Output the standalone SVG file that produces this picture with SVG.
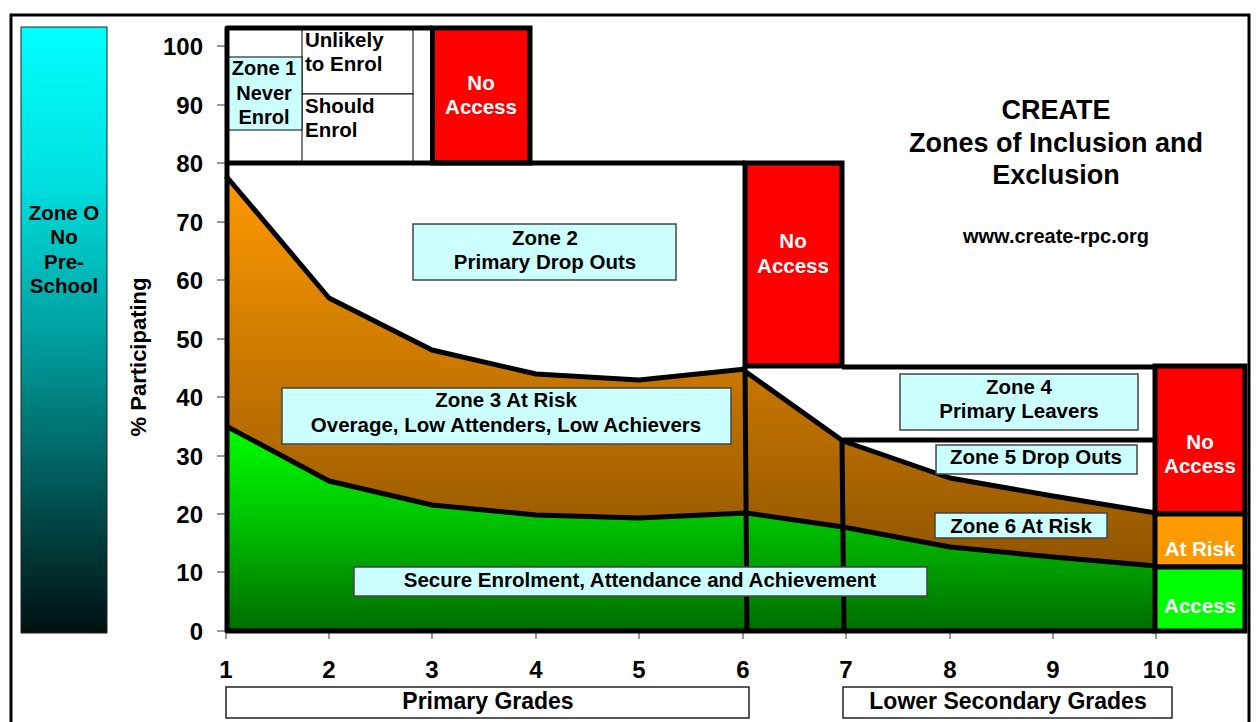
<svg xmlns="http://www.w3.org/2000/svg" width="1257" height="722" viewBox="0 0 1257 722">
<defs>
<linearGradient id="gCyan" gradientUnits="userSpaceOnUse" x1="0" y1="27" x2="0" y2="633">
<stop offset="0" stop-color="#00FFFF"/>
<stop offset="0.25" stop-color="#00E0E0"/>
<stop offset="0.55" stop-color="#009494"/>
<stop offset="1" stop-color="#001010"/>
</linearGradient>
<linearGradient id="gOrange" gradientUnits="userSpaceOnUse" x1="0" y1="176" x2="0" y2="631">
<stop offset="0" stop-color="#FF9900"/>
<stop offset="1" stop-color="#7F4A00"/>
</linearGradient>
<linearGradient id="gGreen" gradientUnits="userSpaceOnUse" x1="0" y1="426" x2="0" y2="631">
<stop offset="0" stop-color="#00FF00"/>
<stop offset="0.4" stop-color="#00CC00"/>
<stop offset="1" stop-color="#006C00"/>
</linearGradient>
</defs>
<style>
text{font-family:"Liberation Sans",Arial,sans-serif;font-weight:bold;fill:#000}
.c{text-anchor:middle}
.t20{font-size:20.5px}
.w{fill:#fff}
.lbl{fill:#CCFFFF;stroke:#444;stroke-width:1.5}
.thick{fill:none;stroke:#000;stroke-width:5;stroke-linejoin:round}
.red{fill:#FF0000;stroke:#000;stroke-width:5}
.tick{stroke:#555;stroke-width:1.2}
.ax{font-size:24px}
</style>
<rect width="1257" height="722" fill="#fff"/>
<g id="frame" fill="none" stroke="#000" stroke-width="3">
<polyline points="11,722 11,15 1249,15 1249,722"/>
</g>
<g id="zone0">
<rect x="21" y="27" width="86" height="606" fill="url(#gCyan)" stroke="#222" stroke-width="1"/>
<text class="c t20" x="64" y="220">Zone O</text>
<text class="c t20" x="64" y="244">No</text>
<text class="c t20" x="64" y="269">Pre-</text>
<text class="c t20" x="64" y="293">School</text>
</g>
<g id="yaxis">
<line x1="226" y1="46" x2="226" y2="632" class="tick"/>
<g class="tick">
<line x1="217" y1="46" x2="226" y2="46"/><line x1="217" y1="105" x2="226" y2="105"/><line x1="217" y1="163" x2="226" y2="163"/><line x1="217" y1="222" x2="226" y2="222"/><line x1="217" y1="280" x2="226" y2="280"/><line x1="217" y1="339" x2="226" y2="339"/><line x1="217" y1="397" x2="226" y2="397"/><line x1="217" y1="456" x2="226" y2="456"/><line x1="217" y1="514" x2="226" y2="514"/><line x1="217" y1="572" x2="226" y2="572"/><line x1="217" y1="631" x2="226" y2="631"/>
</g>
<g class="ax" text-anchor="end">
<text x="203" y="55">100</text><text x="203" y="114">90</text><text x="203" y="172">80</text><text x="203" y="231">70</text><text x="203" y="289">60</text><text x="203" y="348">50</text><text x="203" y="406">40</text><text x="203" y="465">30</text><text x="203" y="523">20</text><text x="203" y="581">10</text><text x="203" y="640">0</text>
</g>
<text class="c" font-size="22" transform="translate(146,357) rotate(-90)">% Participating</text>
</g>
<g id="xaxis">
<line x1="226" y1="632" x2="1196" y2="632" class="tick"/>
<g class="tick">
<line x1="226" y1="632" x2="226" y2="639"/><line x1="329" y1="632" x2="329" y2="639"/><line x1="432" y1="632" x2="432" y2="639"/><line x1="536" y1="632" x2="536" y2="639"/><line x1="639" y1="632" x2="639" y2="639"/><line x1="743" y1="632" x2="743" y2="639"/><line x1="846" y1="632" x2="846" y2="639"/><line x1="950" y1="632" x2="950" y2="639"/><line x1="1053" y1="632" x2="1053" y2="639"/><line x1="1156" y1="632" x2="1156" y2="639"/>
</g>
<g class="ax c">
<text x="226" y="678">1</text><text x="329" y="678">2</text><text x="432" y="678">3</text><text x="536" y="678">4</text><text x="639" y="678">5</text><text x="743" y="678">6</text><text x="846" y="678">7</text><text x="950" y="678">8</text><text x="1053" y="678">9</text><text x="1156" y="678">10</text>
</g>
</g>
<g id="zone3-area">
<polygon fill="url(#gOrange)" points="226,176 329,298 432,350 536,374 639,380 746,369 746,372 843,441 950,478 1053,496 1156,513 1156,631 226,631"/>
</g>
<g id="secure-area">
<polygon fill="url(#gGreen)" points="226,426 329,481 432,505 536,515 639,518 746,513 843,527 950,547 1053,557 1156,566 1156,631 226,631"/>
</g>
<g id="zone1">
<rect x="302" y="28" width="111" height="66" fill="#fff" stroke="#000" stroke-width="1"/>
<rect x="302" y="94" width="111" height="68" fill="#fff" stroke="#000" stroke-width="1"/>
<rect x="228" y="57" width="74" height="73" fill="#CCFFFF" stroke="#000" stroke-width="1"/>
<text class="c" font-size="20" x="264" y="75">Zone 1</text>
<text class="c" font-size="20" x="264" y="100">Never</text>
<text class="c" font-size="20" x="264" y="124">Enrol</text>
<text class="t20" x="305" y="47">Unlikely</text>
<text class="t20" x="305" y="71">to Enrol</text>
<text class="t20" x="305" y="113">Should</text>
<text class="t20" x="305" y="137">Enrol</text>
</g>
<g id="noaccess1">
<rect class="red" x="432.5" y="28" width="97.5" height="135"/>
<text class="c t20 w" x="481" y="90">No</text>
<text class="c t20 w" x="481" y="114">Access</text>
</g>
<g id="noaccess2">
<rect class="red" x="745" y="163" width="97" height="203"/>
<text class="c t20 w" x="793" y="248">No</text>
<text class="c t20 w" x="793" y="273">Access</text>
</g>
<g id="noaccess3">
<rect class="red" x="1155" y="366" width="90" height="148"/>
<text class="c t20 w" x="1200" y="449">No</text>
<text class="c t20 w" x="1200" y="473">Access</text>
</g>
<g id="atrisk">
<rect x="1155" y="514" width="90" height="53" fill="#FF9900" stroke="#000" stroke-width="5"/>
<text class="c t20 w" x="1200" y="556">At Risk</text>
</g>
<g id="access">
<rect x="1155" y="567" width="90" height="64" fill="#00FF00" stroke="#000" stroke-width="5"/>
<text class="c t20 w" x="1200" y="613">Access</text>
</g>
<g id="connectors">
<polyline class="thick" points="432,28 227,28 227,631 1155,631"/>
<line class="thick" x1="227" y1="163" x2="745" y2="163"/>
<line class="thick" x1="745" y1="366" x2="747" y2="631"/>
<line class="thick" x1="842" y1="367" x2="1155" y2="367"/>
<line class="thick" x1="842" y1="441" x2="844" y2="631"/>
<line class="thick" x1="843" y1="440" x2="1155" y2="440"/>
<polyline class="thick" points="226,176 329,298 432,350 536,374 639,380 746,369"/>
<polyline class="thick" points="746,372 843,441 950,478 1053,496 1156,513"/>
<polyline class="thick" points="226,426 329,481 432,505 536,515 639,518 746,513 843,527 950,547 1053,557 1156,566"/>
</g>
<g id="zone2">
<rect class="lbl" x="413" y="224" width="263" height="56"/>
<text class="c t20" x="545" y="245">Zone 2</text>
<text class="c t20" x="545" y="269">Primary Drop Outs</text>
</g>
<g id="zone3">
<rect class="lbl" x="282" y="388" width="449" height="56"/>
<text class="c t20" x="506" y="407">Zone 3 At Risk</text>
<text class="c t20" x="506" y="432">Overage, Low Attenders, Low Achievers</text>
</g>
<g id="zone4">
<rect class="lbl" x="900" y="374" width="238" height="56"/>
<text class="c t20" x="1019" y="394">Zone 4</text>
<text class="c t20" x="1019" y="418">Primary Leavers</text>
</g>
<g id="zone5">
<rect class="lbl" x="936" y="445" width="201" height="29"/>
<text class="c t20" x="1036" y="464">Zone 5 Drop Outs</text>
</g>
<g id="zone6">
<rect class="lbl" x="935" y="513" width="172" height="25"/>
<text class="c t20" x="1021" y="533">Zone 6 At Risk</text>
</g>
<g id="secure">
<rect class="lbl" x="354" y="567" width="573" height="29"/>
<text class="c t20" x="640" y="587">Secure Enrolment, Attendance and Achievement</text>
</g>
<g id="title">
<text class="c" font-size="27" x="1056" y="119">CREATE</text>
<text class="c" font-size="27" x="1056" y="152">Zones of Inclusion and</text>
<text class="c" font-size="27" x="1056" y="184">Exclusion</text>
<text class="c" font-size="20" x="1056" y="243">www.create-rpc.org</text>
</g>
<g id="primary">
<rect x="226" y="687" width="523" height="31" fill="#fff" stroke="#222" stroke-width="1.5"/>
<text class="c" font-size="23" x="488" y="709">Primary Grades</text>
</g>
<g id="lowersec">
<rect x="843" y="687" width="329" height="31" fill="#fff" stroke="#222" stroke-width="1.5"/>
<text class="c" font-size="23" x="1008" y="709">Lower Secondary Grades</text>
</g>
</svg>
